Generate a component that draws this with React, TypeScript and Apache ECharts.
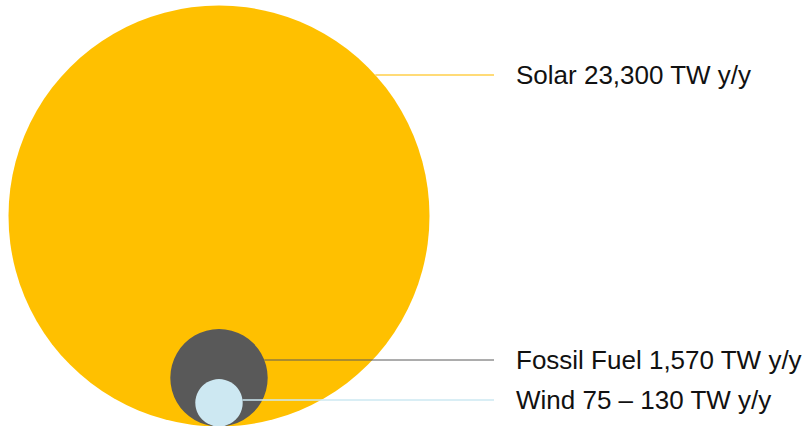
import React, { useEffect, useRef } from "react";
import * as echarts from "echarts";

// ---- data ----
const categories = ["Solar", "Fossil Fuel", "Wind"];
const valueLabels = ["23,300", "1,570", "75 – 130"];
const unitLabel = "TW y/y";

// ---- layout / style (pixel units on hidden axes) ----
const CENTER_X = 219;
const BASE_Y = 426.5; // all circles tangent at bottom
const RADII = [210.5, 48.7, 23.7];
const LABEL_Y = [75, 360, 400];
const LINE_END_X = 494;
const LABEL_X = 516;
const FILL_COLORS = ["#FFC000", "#595959", "#CDE8F2"];
const LINE_COLORS = ["#FFCF4A", "#5A5A5A", "#CDE8F2"];
const LINE_WIDTHS = [1.5, 1, 1.5];

export default function App() {
  const ref = useRef<HTMLDivElement>(null);
  useEffect(() => {
    if (!ref.current) return;
    const chart = echarts.init(ref.current, undefined, { renderer: "svg" });
    const data = categories.map((_, i) => [
      CENTER_X,
      BASE_Y - RADII[i],
      RADII[i],
      LABEL_Y[i],
      i,
    ]);
    chart.setOption({
      animation: false,
      grid: { left: 0, right: 0, top: 0, bottom: 0 },
      xAxis: { type: "value", min: 0, max: 811, show: false },
      yAxis: { type: "value", min: 0, max: 426, inverse: true, show: false },
      series: [
        {
          type: "custom",
          coordinateSystem: "cartesian2d",
          data,
          renderItem: (params: any, api: any) => {
            const cx = api.value(0);
            const cy = api.value(1);
            const r = api.value(2);
            const ly = api.value(3);
            const i = api.value(4);
            const c = api.coord([cx, cy]);
            const rpx = api.size([r, 0])[0];
            const lyPx = api.coord([0, ly])[1];
            const dy = lyPx - c[1];
            const startX = c[0] + Math.sqrt(Math.max(0, rpx * rpx - dy * dy));
            const endX = api.coord([LINE_END_X, 0])[0];
            const textX = api.coord([LABEL_X, 0])[0];
            return {
              type: "group",
              children: [
                {
                  type: "circle",
                  shape: { cx: c[0], cy: c[1], r: rpx },
                  style: { fill: FILL_COLORS[i] },
                },
                {
                  type: "line",
                  shape: { x1: startX, y1: lyPx, x2: endX, y2: lyPx },
                  style: { stroke: LINE_COLORS[i], lineWidth: LINE_WIDTHS[i] },
                },
                {
                  type: "text",
                  x: textX,
                  y: lyPx,
                  style: {
                    text: `${categories[i]} ${valueLabels[i]} ${unitLabel}`,
                    fill: "#111111",
                    fontSize: 26,
                    fontFamily: "'Liberation Sans', Arial, Helvetica, sans-serif",
                    verticalAlign: "middle",
                    align: "left",
                  },
                },
              ],
            };
          },
        },
      ],
    });
    return () => chart.dispose();
  }, []);
  return (
    <div
      ref={ref}
      style={{ position: "fixed", left: 0, top: 0, width: 811, height: 426, background: "#fff" }}
    />
  );
}
